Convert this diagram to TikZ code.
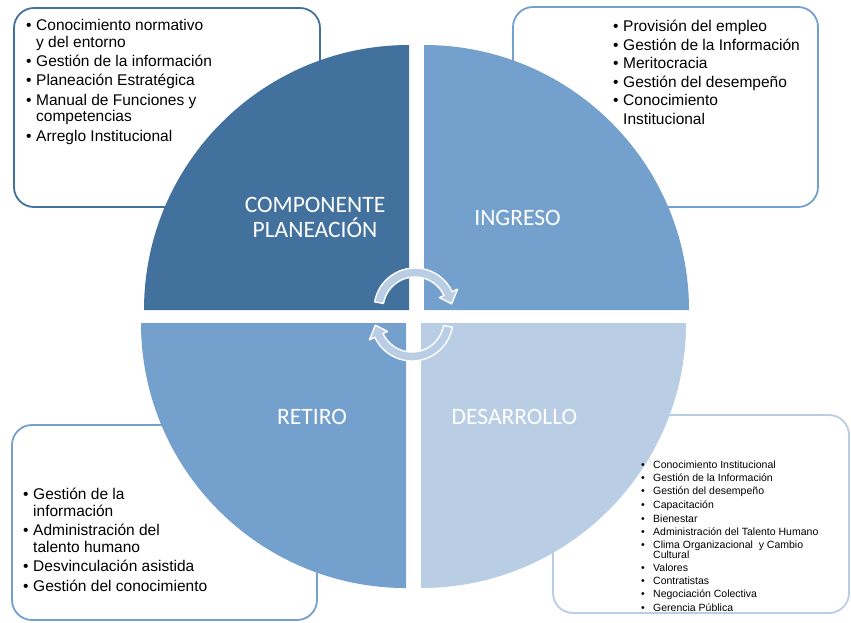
\documentclass[tikz,border=0pt]{standalone}
\usepackage{fontspec}
\setmainfont{Liberation Sans}
\newfontfamily\calibri{Carlito}
\definecolor{planblue}{RGB}{66,113,158}
\definecolor{midblue}{RGB}{116,160,206}
\definecolor{paleblue}{RGB}{185,205,229}
% bullet and continuation indent for the lists
\newcommand{\li}{\makebox[10pt][l]{\textbullet}}
\newcommand{\lc}{\hspace*{10pt}}
\newcommand{\lis}{\makebox[12pt][l]{\textbullet}}
\newcommand{\lcs}{\hspace*{12pt}}
\begin{document}
\begin{tikzpicture}[x=1pt, y=-1pt, line join=round,
  box/.style={line width=1.8pt, fill=white, rounded corners=20pt},
  title/.style={white, font=\calibri\fontsize{23.5}{25}\selectfont, align=center, anchor=base, inner sep=0},
  list/.style={align=left, anchor=base west, inner sep=0, font=\fontsize{15.5}{16.5}\selectfont},
  cyc/.style={fill=paleblue, draw=white, line width=1.4pt}]
\useasboundingbox (0,0) rectangle (851,622);
\path
(409,310) coordinate (P)
(424,310) coordinate (I)
(421,323) coordinate (D)
(406,323) coordinate (R);
% the four lists sit behind the circle
\draw[box, draw=planblue] (14,8) rectangle (320,207);
\draw[box, draw=midblue] (513,7) rectangle (818,207);
\draw[box, draw=midblue] (12,425) rectangle (317,620);
\draw[box, draw=paleblue] (553,415) rectangle (849,613);
% quarters of the circle
\fill[planblue] (P) -- ++(180:265) arc[start angle=180, end angle=270, radius=265] -- cycle;
\fill[midblue] (I) -- ++(270:265) arc[start angle=270, end angle=360, radius=265] -- cycle;
\fill[paleblue] (D) -- ++(0:265) arc[start angle=0, end angle=90, radius=265] -- cycle;
\fill[midblue] (R) -- ++(90:265) arc[start angle=90, end angle=180, radius=265] -- cycle;
% turning arrows in the middle
\foreach \c/\r in {{(415,309)}/0, {(412,320)}/180}
  \path[cyc, shift={\c}, rotate=\r] (-170:41) arc[start angle=-170, end angle=-25, radius=41]
    -- (-25:47) -- (-8:37) -- (-25:27) -- (-25:32)
    arc[start angle=-25, end angle=-170, radius=32] -- cycle;
% labels are placed by the baseline of their last line
\node[title] (plan) at (315,237.5) {COMPONENTE\\PLANEACIÓN};
\node[title] (ingreso) at (517.5,225.5) {INGRESO};
\node[title] (retiro) at (312,424.5) {RETIRO};
\node[title] (desarrollo) at (514.5,424.5) {DESARROLLO};
\node[list] (planlist) at (26,141) {\li Conocimiento normativo\\ \lc y del entorno\\[2.8pt]
  \li Gestión de la información\\[2.8pt]
  \li Planeación Estratégica\\[2.8pt]
  \li Manual de Funciones y\\ \lc competencias\\[2.8pt]
  \li Arreglo Institucional};
\node[list, font=\fontsize{15.5}{18.5}\selectfont] (ingresolist) at (613,124) {\li Provisión del empleo\\
  \li Gestión de la Información\\
  \li Meritocracia\\
  \li Gestión del desempeño\\
  \li Conocimiento\\ \lc Institucional};
\node[list, font=\fontsize{15.5}{16.8}\selectfont] (retirolist) at (23,591) {\li Gestión de la\\ \lc información\\[2.5pt]
  \li Administración del\\ \lc talento humano\\[2.5pt]
  \li Desvinculación asistida\\[2.5pt]
  \li Gestión del conocimiento};
\node[list, font=\fontsize{10.5}{9.5}\selectfont] (desarrollolist) at (641,611.5) {\lis Conocimiento Institucional\\[3.3pt]
  \lis Gestión de la Información\\[3.3pt]
  \lis Gestión del desempeño\\[3.3pt]
  \lis Capacitación\\[3.3pt]
  \lis Bienestar\\[3.3pt]
  \lis Administración del Talento Humano\\[3.3pt]
  \lis Clima Organizacional\ \ y Cambio\\ \lcs Cultural\\[3.3pt]
  \lis Valores\\[3.3pt]
  \lis Contratistas\\[3.3pt]
  \lis Negociación Colectiva\\[3.3pt]
  \lis Gerencia Pública};
\end{tikzpicture}
\end{document}
